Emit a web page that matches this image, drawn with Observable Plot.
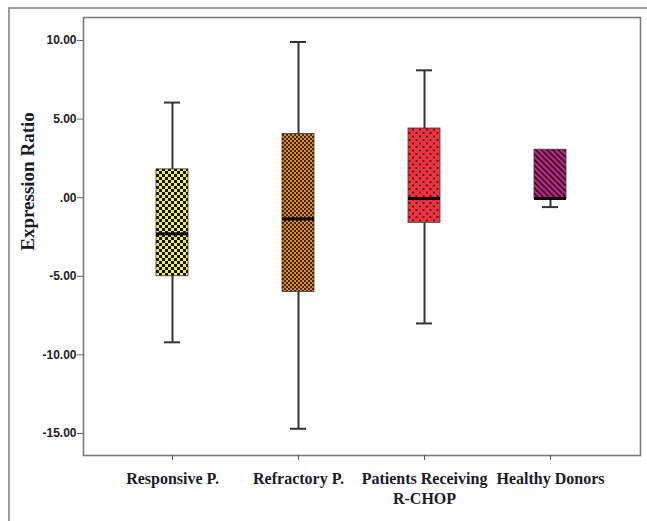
<!DOCTYPE html>
<html><head><meta charset="utf-8">
<script src="https://cdn.jsdelivr.net/npm/d3@7"></script>
<script src="https://cdn.jsdelivr.net/npm/@observablehq/plot@0.6"></script>
<style>
body{margin:0;background:#fff;}
#wrap{position:relative;width:647px;height:521px;overflow:hidden;}
#border{position:absolute;left:8px;top:7px;width:700px;height:600px;border-top:2px solid #9c9c9c;border-left:2px solid #9c9c9c;pointer-events:none;}
#wrap svg{position:absolute;left:0;top:0;}
</style></head><body><div id="wrap"><div id="border"></div></div>
<script>
const categories = ["Responsive P.", "Refractory P.", "Patients Receiving\nR-CHOP", "Healthy Donors"];
const whiskerLow  = [-9.2, -14.7, -8.0, -0.6];
const q1          = [-5.0, -6.0, -1.6, -0.1];
const median      = [-2.3, -1.35, -0.05, -0.05];
const q3          = [1.8, 4.05, 4.4, 3.05];
const whiskerHigh = [6.05, 9.9, 8.1, 3.05];
const yTicks = [10, 5, 0, -5, -10, -15];
const patternFills = ["url(#pat0)", "url(#pat1)", "url(#pat2)", "url(#pat3)"];

const rows = categories.map((c, i) => ({
  cat: c, lo: whiskerLow[i], q1: q1[i], med: median[i], q3: q3[i], hi: whiskerHigh[i], pat: patternFills[i]
}));
const fmt = d => d === 0 ? ".00" : d.toFixed(2);

const chart = Plot.plot({
  width: 647, height: 521,
  marginLeft: 83, marginRight: 7, marginTop: 17, marginBottom: 66,
  style: {background: "transparent", overflow: "visible"},
  x: {domain: categories, paddingInner: 0.746, paddingOuter: 0.583, align: 0.5},
  y: {domain: [-16.4, 11.46]},
  color: {type: "identity"},
  marks: [
    Plot.ruleX(rows, {x: "cat", y1: "lo", y2: "hi", stroke: "#333", strokeWidth: 2}),
    Plot.tickY(rows, {x: "cat", y: "lo", insetLeft: 8, insetRight: 8, stroke: "#333", strokeWidth: 2}),
    Plot.tickY(rows, {x: "cat", y: "hi", insetLeft: 8, insetRight: 8, stroke: "#333", strokeWidth: 2,
      filter: d => d.hi > d.q3}),
    Plot.barY(rows, {x: "cat", y1: "q1", y2: "q3", fill: "pat", stroke: "#3a3a3a", strokeWidth: 0.8}),
    Plot.tickY(rows, {x: "cat", y: "med", stroke: "#000", strokeWidth: 3}),
    Plot.frame({stroke: "#7a7a7a", strokeWidth: 1.6}),
    Plot.axisY({ticks: yTicks, tickFormat: fmt, tickSize: 6, tickPadding: 1, fontSize: 12,
      fontWeight: "bold", fontFamily: "Liberation Sans", label: null, stroke: "#666", fill: "#222"}),
    Plot.axisX({tickSize: 5, tickPadding: 9, fontSize: 16, fontWeight: "bold",
      fontFamily: "Liberation Serif", label: null, lineHeight: 1.25, stroke: "#555", fill: "#1a1a28"}),
    Plot.text(["Expression Ratio"], {frameAnchor: "left", textAnchor: "middle", rotate: -90, dx: -56, dy: -55,
      fontSize: 19, fontWeight: "bold", fontFamily: "Liberation Serif", fill: "#1a1a28"})
  ]
});

const defs = d3.select(chart).insert("defs", ":first-child");
// yellow checkerboard
let p = defs.append("pattern").attr("id", "pat0").attr("patternUnits", "userSpaceOnUse").attr("width", 6).attr("height", 6);
p.append("rect").attr("width", 6).attr("height", 6).attr("fill", "#f2ee58");
p.append("rect").attr("width", 3).attr("height", 3).attr("fill", "#111");
p.append("rect").attr("x", 3).attr("y", 3).attr("width", 3).attr("height", 3).attr("fill", "#111");
// orange fine checkerboard
p = defs.append("pattern").attr("id", "pat1").attr("patternUnits", "userSpaceOnUse").attr("width", 4).attr("height", 4);
p.append("rect").attr("width", 4).attr("height", 4).attr("fill", "#e08a1e");
p.append("rect").attr("width", 2).attr("height", 2).attr("fill", "#3b2610");
p.append("rect").attr("x", 2).attr("y", 2).attr("width", 2).attr("height", 2).attr("fill", "#3b2610");
// red dots on dark lattice
p = defs.append("pattern").attr("id", "pat2").attr("patternUnits", "userSpaceOnUse").attr("width", 7).attr("height", 7);
p.append("rect").attr("width", 7).attr("height", 7).attr("fill", "#2a0608");
[[0,0],[7,0],[0,7],[7,7],[3.5,3.5]].forEach(([cx,cy]) =>
  p.append("circle").attr("cx", cx).attr("cy", cy).attr("r", 2.7).attr("fill", "#ec3440"));
// magenta diagonal stripes
p = defs.append("pattern").attr("id", "pat3").attr("patternUnits", "userSpaceOnUse").attr("width", 4).attr("height", 4)
  .attr("patternTransform", "rotate(-45)");
p.append("rect").attr("width", 4).attr("height", 4).attr("fill", "#c8288a");
p.append("rect").attr("width", 1.6).attr("height", 4).attr("fill", "#1a0612");

document.getElementById("wrap").appendChild(chart);
</script></body></html>
